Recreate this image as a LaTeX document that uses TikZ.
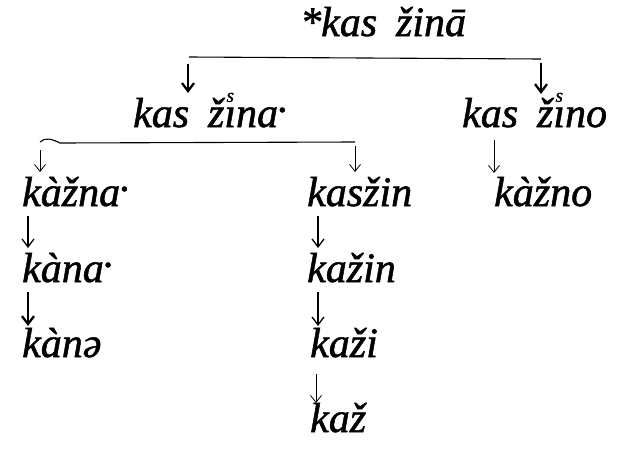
\documentclass[tikz,border=0pt]{standalone}
\usepackage{fontspec}
\newfontfamily\formfont{Liberation Serif Italic}[FakeBold=1.2]
\usetikzlibrary{arrows.meta}

% dotless i carrying a small superscript s
\newcommand\sI{\ooalign{ı\cr\hidewidth\raisebox{0.6em}{\fontsize{19}{19}\selectfont s}\hidewidth\cr}}
% raised half-length dot
\newcommand\hl{\raisebox{0.36em}{.}}
\newcommand\gap{\hspace{0.45em}}

\tikzset{
  form/.style={anchor=base west, inner sep=0pt, font=\formfont\fontsize{42}{46}\selectfont},
  thinarr/.style={line width=0.8pt, -{Straight Barb[length=7pt,width=11pt]}},
  midarr/.style={line width=1.3pt, -{Straight Barb[length=8pt,width=12pt]}},
  boldarr/.style={line width=2.3pt, -{Straight Barb[length=8pt,width=12pt]}},
  bracket/.style={line width=1.1pt},
}

\begin{document}
\begin{tikzpicture}[x=1pt,y=-1pt]
\useasboundingbox (0,0) rectangle (623,458);

% word forms
\node[form] (root) at (300,36) {*kas\gap žinā};
\node[form] (l1)   at (133,127) {kas\gap ž\sI na\hl};
\node[form] (r1)   at (462,127) {kas\gap ž\sI no};
\node[form] (l2)   at (22,206) {kàžna\hl};
\node[form] (m2)   at (307,206) {kasžin};
\node[form] (r2)   at (494,206) {kàžno};
\node[form] (l3)   at (22,282) {kàna\hl};
\node[form] (m3)   at (307,282) {kažin};
\node[form] (l4)   at (22,357) {kànə};
\node[form] (m4)   at (310,357) {kaži};
\node[form] (m5)   at (310,432) {kaž};

% split under *kas žinā
\coordinate (s1l) at (189,57);
\coordinate (s1r) at (541,59);
\draw[bracket] (s1l) -- (s1r);
\coordinate (a1t) at (188,64);  \coordinate (a1b) at (188,93);
\coordinate (a2t) at (541,63);  \coordinate (a2b) at (541,94);
\draw[boldarr] (a1t) -- (a1b);
\draw[boldarr] (a2t) -- (a2b);

% split under kas žina·, with a small curl at its left end
\coordinate (s2l) at (40,142);
\coordinate (s2m) at (60,143);
\coordinate (s2r) at (355,142);
\draw[bracket] (s2l) .. controls (45,137) and (52,139) .. (s2m) -- (s2r);
\coordinate (a3t) at (40,150);  \coordinate (a3b) at (40,172);
\coordinate (a4t) at (355,146); \coordinate (a4b) at (355,172);
\draw[thinarr] (a3t) -- (a3b);
\draw[thinarr] (a4t) -- (a4b);

% kas žino -> kàžno
\coordinate (a5t) at (494,140); \coordinate (a5b) at (494,173);
\draw[thinarr] (a5t) -- (a5b);

% left chain
\coordinate (a6t) at (28,216);  \coordinate (a6b) at (28,248);
\draw[midarr] (a6t) -- (a6b);
\coordinate (a7t) at (28,292);  \coordinate (a7b) at (28,326);
\draw[boldarr] (a7t) -- (a7b);

% middle chain
\coordinate (a8t) at (318,216); \coordinate (a8b) at (318,248);
\draw[midarr] (a8t) -- (a8b);
\coordinate (a9t) at (318,292); \coordinate (a9b) at (318,326);
\draw[midarr] (a9t) -- (a9b);
\coordinate (a10t) at (316,374); \coordinate (a10b) at (316,403);
\draw[thinarr] (a10t) -- (a10b);
\end{tikzpicture}
\end{document}
